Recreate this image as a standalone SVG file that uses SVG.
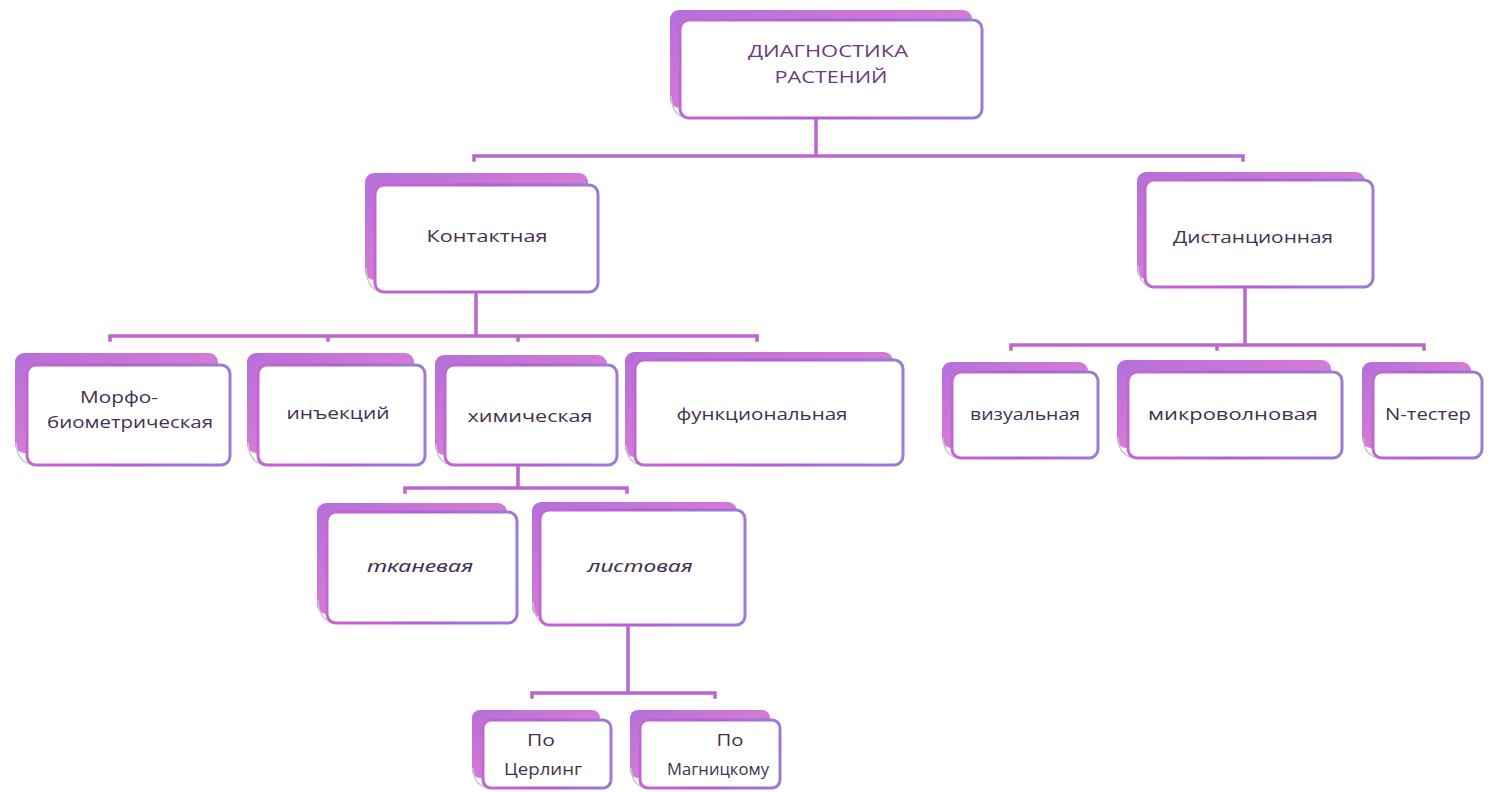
<svg xmlns="http://www.w3.org/2000/svg" width="1488" height="792" viewBox="0 0 1488 792">
<defs>
<linearGradient id="gBack" x1="0" y1="0" x2="1" y2="1">
<stop offset="0" stop-color="#b56fd9"/>
<stop offset="0.5" stop-color="#d27ad6"/>
<stop offset="1" stop-color="#a88ae2"/>
</linearGradient>
<linearGradient id="gStroke" x1="0" y1="0" x2="1" y2="0">
<stop offset="0" stop-color="#c466d2"/>
<stop offset="0.5" stop-color="#b45fcf"/>
<stop offset="1" stop-color="#9b7bd6"/>
</linearGradient>
<style>
.back{fill:url(#gBack);}
.front{fill:#ffffff;stroke:url(#gStroke);stroke-width:3;}
.curl{fill:none;stroke:#c9c6d2;stroke-width:1.5;}
.t{font-family:"Open Sans","Noto Sans","DejaVu Sans",sans-serif;font-size:16px;fill:#45304f;text-anchor:middle;}
.ti{font-family:"Noto Sans","DejaVu Sans",sans-serif;font-style:italic;font-size:16px;fill:#45304f;text-anchor:middle;}
.top{fill:#6a3a80;}
.ln{fill:none;stroke:#bb66cf;stroke-width:3.5;stroke-linecap:square;}
</style>
</defs>
<rect width="1488" height="792" fill="#ffffff"/>

<g id="connectors">
<path class="ln" d="M816,118 V156 M474,160 V156 H1243 V160"/>
<path class="ln" d="M476,292 V336 M110,340 V336 H757 V340 M328,336 V340 M518,336 V340"/>
<path class="ln" d="M1245,287 V345 M1011,349 V345 H1424 V349 M1217,345 V349"/>
<path class="ln" d="M518,465 V488 M405,492 V488 H627 V492"/>
<path class="ln" d="M628,625 V693 M532,697 V693 H715 V697"/>
</g>

<g id="node-diag">
<rect class="back" x="670" y="10" width="302" height="98" rx="9"/>
<path class="curl" d="M671,96 Q672,118 690,118"/>
<rect class="front" x="680" y="20" width="302" height="98" rx="9"/>
<text class="t top" x="828" y="57" textLength="160" lengthAdjust="spacingAndGlyphs">ДИАГНОСТИКА</text>
<text class="t top" x="831" y="83" textLength="113" lengthAdjust="spacingAndGlyphs">РАСТЕНИЙ</text>
</g>

<g id="node-contact">
<rect class="back" x="365" y="173" width="223" height="107" rx="9"/>
<path class="curl" d="M366,268 Q367,292 385,292"/>
<rect class="front" x="375" y="185" width="223" height="107" rx="9"/>
<text class="t" x="487" y="242" textLength="121" lengthAdjust="spacingAndGlyphs">Контактная</text>
</g>

<g id="node-distance">
<rect class="back" x="1137" y="172" width="228" height="107" rx="9"/>
<path class="curl" d="M1138,266 Q1139,287 1155,287"/>
<rect class="front" x="1145" y="180" width="228" height="107" rx="9"/>
<text class="t" x="1253" y="243" textLength="160" lengthAdjust="spacingAndGlyphs">Дистанционная</text>
</g>

<g id="node-morpho">
<rect class="back" x="15" y="353" width="203" height="100" rx="9"/>
<path class="curl" d="M16,442 Q17,465 37,465"/>
<rect class="front" x="27" y="365" width="203" height="100" rx="9"/>
<text class="t" x="119" y="403" textLength="78" lengthAdjust="spacingAndGlyphs">Морфо-</text>
<text class="t" x="130" y="428" textLength="166" lengthAdjust="spacingAndGlyphs">биометрическая</text>
</g>

<g id="node-inject">
<rect class="back" x="247" y="353" width="167" height="100" rx="9"/>
<path class="curl" d="M248,442 Q249,465 268,465"/>
<rect class="front" x="258" y="365" width="167" height="100" rx="9"/>
<text class="t" x="338" y="419" textLength="103" lengthAdjust="spacingAndGlyphs">инъекций</text>
</g>

<g id="node-chem">
<rect class="back" x="435" y="355" width="172" height="100" rx="9"/>
<path class="curl" d="M436,444 Q437,465 455,465"/>
<rect class="front" x="445" y="365" width="172" height="100" rx="9"/>
<text class="t" x="530" y="422" textLength="125" lengthAdjust="spacingAndGlyphs">химическая</text>
</g>

<g id="node-func">
<rect class="back" x="625" y="352" width="268" height="105" rx="9"/>
<path class="curl" d="M626,445 Q627,465 645,465"/>
<rect class="front" x="635" y="360" width="268" height="105" rx="9"/>
<text class="t" x="762" y="420" textLength="171" lengthAdjust="spacingAndGlyphs">функциональная</text>
</g>

<g id="node-visual">
<rect class="back" x="942" y="362" width="146" height="86" rx="9"/>
<path class="curl" d="M943,438 Q944,458 962,458"/>
<rect class="front" x="952" y="372" width="146" height="86" rx="9"/>
<text class="t" x="1025" y="420" textLength="110" lengthAdjust="spacingAndGlyphs">визуальная</text>
</g>

<g id="node-micro">
<rect class="back" x="1117" y="360" width="214" height="88" rx="9"/>
<path class="curl" d="M1118,438 Q1119,458 1138,458"/>
<rect class="front" x="1128" y="372" width="214" height="86" rx="9"/>
<text class="t" x="1233" y="420" textLength="170" lengthAdjust="spacingAndGlyphs">микроволновая</text>
</g>

<g id="node-ntester">
<rect class="back" x="1362" y="362" width="109" height="86" rx="9"/>
<path class="curl" d="M1363,438 Q1364,458 1383,458"/>
<rect class="front" x="1373" y="372" width="109" height="86" rx="9"/>
<text class="t" x="1428" y="420" textLength="86" lengthAdjust="spacingAndGlyphs">N-тестер</text>
</g>

<g id="node-tissue">
<rect class="back" x="317" y="503" width="190" height="111" rx="9"/>
<path class="curl" d="M318,600 Q319,623 337,623"/>
<rect class="front" x="327" y="512" width="190" height="111" rx="9"/>
<text class="ti" x="420" y="572" textLength="106" lengthAdjust="spacingAndGlyphs">тканевая</text>
</g>

<g id="node-leaf">
<rect class="back" x="532" y="502" width="205" height="115" rx="9"/>
<path class="curl" d="M533,602 Q534,625 552,625"/>
<rect class="front" x="540" y="510" width="205" height="115" rx="9"/>
<text class="ti" x="640" y="572" textLength="105" lengthAdjust="spacingAndGlyphs">листовая</text>
</g>

<g id="node-zerling">
<rect class="back" x="472" y="710" width="128" height="68" rx="8"/>
<path class="curl" d="M473,768 Q474,788 492,788"/>
<rect class="front" x="483" y="720" width="128" height="68" rx="8"/>
<text class="t" x="541" y="746" textLength="28" lengthAdjust="spacingAndGlyphs">По</text>
<text class="t" x="543" y="775" textLength="78" lengthAdjust="spacingAndGlyphs">Церлинг</text>
</g>

<g id="node-magnitsky">
<rect class="back" x="630" y="710" width="140" height="68" rx="8"/>
<path class="curl" d="M631,768 Q632,788 650,788"/>
<rect class="front" x="640" y="720" width="140" height="68" rx="8"/>
<text class="t" x="730" y="746" textLength="27" lengthAdjust="spacingAndGlyphs">По</text>
<text class="t" x="718" y="775" textLength="102" lengthAdjust="spacingAndGlyphs">Магницкому</text>
</g>
</svg>
